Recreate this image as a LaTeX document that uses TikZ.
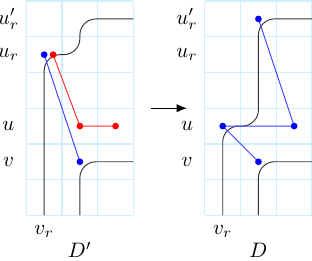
\documentclass[tikz,border=0pt]{standalone}
\usetikzlibrary{arrows.meta}

\begin{document}
\begin{tikzpicture}[
  x=0.6cm,y=0.6cm,
  >={Latex[length=5pt,width=4pt]},
  gridline/.style={cyan!18,line width=0.6pt},
  strand/.style={black!80,line width=0.45pt,rounded corners=0.27cm},
  dot/.style={circle,fill=#1,inner sep=0pt,minimum size=3.2pt},
  bluelink/.style={blue!75,line width=0.45pt},
  redlink/.style={red!85,line width=0.45pt},
  lab/.style={inner sep=1pt}]

  \useasboundingbox (-0.737,-1.26) rectangle (8.0,6.03);

  % left panel D'
  \foreach \i in {0,...,3} \draw[gridline] (\i,0) -- (\i,6);
  \foreach \j in {0,...,6} \draw[gridline] (0,\j) -- (3,\j);

  \node[lab] (lurp) at (-0.5,5.5) {$u'_r$};
  \node[lab] (lur)  at (-0.5,4.5) {$u_r$};
  \node[lab] (lu)   at (-0.5,2.5) {$u$};
  \node[lab] (lv)   at (-0.5,1.5) {$v$};
  \node[lab] (lvr)  at (0.5,-0.45) {$v_r$};
  \node[lab] (ltitle) at (1.5,-0.97) {$D'$};

  \draw[strand] (0.5,0) -- (0.5,4.5) -- (1.5,4.5) -- (1.5,5.5) -- (3,5.5);
  \draw[strand] (1.5,0) -- (1.5,1.5) -- (3,1.5);

  \coordinate (lpb) at (0.5,4.5);
  \coordinate (lpr) at (0.75,4.5);
  \coordinate (lqr) at (1.5,2.5);
  \coordinate (lsr) at (2.5,2.5);
  \coordinate (lqb) at (1.5,1.5);

  \draw[bluelink] (lpb) -- (lqb);
  \draw[redlink] (lpr) -- (lqr) -- (lsr);
  \foreach \p in {lpb,lqb} \node[dot=blue] at (\p) {};
  \foreach \p in {lpr,lqr,lsr} \node[dot=red] at (\p) {};

  % move
  \coordinate (mvs) at (3.5,3);
  \coordinate (mve) at (4.5,3);
  \draw[->,line width=0.5pt] (mvs) -- (mve);

  % right panel D
  \begin{scope}[xshift=3cm]
    \foreach \i in {0,...,3} \draw[gridline] (\i,0) -- (\i,6);
    \foreach \j in {0,...,6} \draw[gridline] (0,\j) -- (3,\j);

    \node[lab] (rurp) at (-0.5,5.5) {$u'_r$};
    \node[lab] (rur)  at (-0.5,4.5) {$u_r$};
    \node[lab] (ru)   at (-0.5,2.5) {$u$};
    \node[lab] (rv)   at (-0.5,1.5) {$v$};
    \node[lab] (rvr)  at (0.5,-0.45) {$v_r$};
    \node[lab] (rtitle) at (1.5,-0.97) {$D$};

    \draw[strand] (0.5,0) -- (0.5,2.5) -- (1.5,2.5) -- (1.5,5.5) -- (3,5.5);
    \draw[strand] (1.5,0) -- (1.5,1.5) -- (3,1.5);

    \coordinate (rtop) at (1.5,5.5);
    \coordinate (rright) at (2.5,2.5);
    \coordinate (rleft) at (0.5,2.5);
    \coordinate (rlow) at (1.5,1.5);

    \draw[bluelink] (rtop) -- (rright) -- (rleft) -- (rlow);
    \foreach \p in {rtop,rright,rleft,rlow} \node[dot=blue] at (\p) {};
  \end{scope}
\end{tikzpicture}
\end{document}
